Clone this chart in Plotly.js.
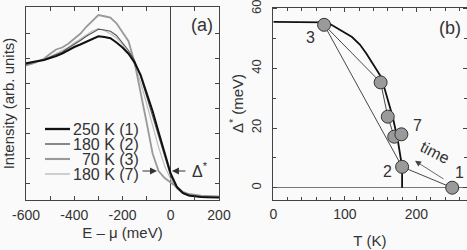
<!DOCTYPE html>
<html>
<head>
<meta charset="utf-8">
<script src="https://cdn.plot.ly/plotly-3.0.1.min.js"></script>
<style>html,body{margin:0;padding:0;background:#fafafa;}#chart{width:467px;height:250px;}</style>
</head>
<body>
<div id="chart"></div>
<script>
// ---------- Panel (a): spectra ----------
const energy = [-600,-575,-550,-525,-500,-475,-450,-425,-400,-375,-350,-325,-300,-275,-250,-225,-200,-175,-150,-125,-100,-75,-50,-25,0,25,50,75,100,125,150,175,200];
const int250K_1 = [5.47,5.50,5.56,5.60,5.67,5.76,5.86,6.00,6.12,6.22,6.32,6.42,6.55,6.52,6.47,6.30,6.10,5.85,5.50,5.00,4.30,3.55,2.70,1.85,1.05,0.53,0.28,0.18,0.14,0.12,0.11,0.10,0.10];
const int180K_2 = [5.42,5.48,5.54,5.62,5.72,5.82,5.92,6.08,6.22,6.38,6.55,6.70,6.83,6.80,6.75,6.58,6.30,5.98,5.58,4.95,4.15,3.35,2.50,1.65,0.95,0.48,0.26,0.17,0.14,0.12,0.11,0.10,0.10];
const int70K_3  = [5.40,5.45,5.55,5.65,5.85,6.02,6.10,6.25,6.45,6.65,6.93,7.15,7.40,7.35,7.30,7.07,6.72,6.35,5.50,4.35,3.10,1.85,1.15,0.88,0.70,0.50,0.33,0.24,0.20,0.17,0.16,0.15,0.14];
const int180K_7 = [5.36,5.44,5.52,5.60,5.74,5.86,5.95,6.10,6.28,6.45,6.62,6.76,6.86,6.78,6.65,6.48,6.22,5.88,5.42,4.70,3.85,2.95,2.10,1.35,0.82,0.45,0.27,0.18,0.15,0.14,0.13,0.13,0.12];
const seriesNames = ['250 K (1)','180 K (2)','\u200770 K (3)','180 K (7)'];
const xTickVals = [-600,-400,-200,0,200];
const xTickText = ['-600','-400','-200','0','200'];

// ---------- Panel (b): gap vs temperature ----------
const measT   = [250,180,71,150,160,169,179];
const measGap = [0,7,54.6,35.3,23.8,17.1,17.9];
const measLabels = ['1','2','3','','','','7'];
const curveT   = [0,60,71,80,93,110,121,130,139.5,151,160,167,174,178,180,180];
const curveGap = [55.6,55.6,55.4,54.8,53,50.5,48,45,41.4,37,29.5,23.6,15.9,10.3,7,0];
const tTickVals = [0,100,200];
const gapTickVals = [0,20,40,60];

const W = 467, H = 250;
const px = v => v / W;
const py = v => 1 - v / H;

const seriesY = [int250K_1, int180K_2, int70K_3, int180K_7];
const seriesColor = ['#111111','#555555','#999999','#bbbbbb'];
const seriesWidth = [2,1.1,1.8,1.1];

const traces = [];
// draw lighter curves first so black is on top
[3,2,1,0].forEach(i => {
  traces.push({x: energy, y: seriesY[i], xaxis:'x', yaxis:'y', mode:'lines', name: seriesNames[i],
    line:{color: seriesColor[i], width: seriesWidth[i]}, hoverinfo:'skip'});
});
traces.push({x: curveT, y: curveGap, xaxis:'x2', yaxis:'y2', mode:'lines', line:{color:'#111', width:1.8}, hoverinfo:'skip'});
traces.push({x: measT, y: measGap, xaxis:'x2', yaxis:'y2', mode:'lines+markers',
  line:{color:'#333', width:0.9},
  marker:{size:13, color:'#9a9a9a', line:{color:'#333', width:1}}, hoverinfo:'skip'});

const txt = '#333';
const annotations = [];
const shapes = [];
function label(x, y, text, size, extra) {
  annotations.push(Object.assign({xref:'paper', yref:'paper', x:px(x), y:py(y), xanchor:'center', yanchor:'middle',
    text:text, showarrow:false, font:{size:size, color:txt}}, extra || {}));
}

// legend for (a)
const legRows = [129,144,159,174];
seriesNames.forEach((n,i) => {
  shapes.push({type:'line', xref:'paper', yref:'paper', x0:px(45), x1:px(70), y0:py(legRows[i]), y1:py(legRows[i]),
    line:{color: seriesColor[i], width: seriesWidth[i] + 0.3}});
  label(141, legRows[i], n, 16, {xanchor:'right'});
});
label(202, 25, '(a)', 18);
label(200, 170, 'Δ<sup>*</sup>', 16);
annotations.push({xref:'x', yref:'y', x:-57, y:1.16, ax:-16, ay:0, text:'', showarrow:true, arrowhead:2, arrowsize:1.4, arrowwidth:1, arrowcolor:'#333'});
annotations.push({xref:'x', yref:'y', x:5, y:1.16, ax:15, ay:0, text:'', showarrow:true, arrowhead:2, arrowsize:1.4, arrowwidth:1, arrowcolor:'#333'});

// (b)
label(450, 28, '(b)', 18);
const labPos = {'1':[459,172],'2':[387,171],'3':[310,37],'7':[417,125]};
measLabels.forEach(l => { if (l) label(labPos[l][0], labPos[l][1], l, 16); });
label(435, 152, 'time', 16, {textangle:27});
annotations.push({xref:'x2', yref:'y2', x:198, y:9, ax:30, ay:19, text:'', showarrow:true, arrowhead:2, arrowsize:1.5, arrowwidth:0.8, arrowcolor:'#444'});

const axCommon = {showline:true, linecolor:'#444', linewidth:1, mirror:'ticks', ticks:'inside', ticklen:4, tickcolor:'#444', showgrid:false,
  tickfont:{size:14, color:txt}, ticklabeloverflow:'allow'};

const layout = {
  width: W, height: H, margin:{l:0,r:0,t:0,b:0},
  paper_bgcolor:'#fafafa', plot_bgcolor:'#fafafa', showlegend:false,
  font:{family:'Liberation Sans, Arial, sans-serif', size:14, color:txt},
  xaxis: Object.assign({}, axCommon, {domain:[px(26), px(219)], range:[-600,200], anchor:'y',
    tickmode:'array', tickvals:xTickVals, ticktext:xTickText, ticklabelstandoff:2,
    minor:{dtick:100, tick0:0, ticks:'inside', ticklen:4, tickcolor:'#444'},
    zeroline:true, zerolinecolor:'#444', zerolinewidth:1,
    title:{text:'E – μ (meV)', font:{size:15, color:txt}, standoff:5}}),
  yaxis: Object.assign({}, axCommon, {domain:[0.2, py(7)], range:[0,7.72], anchor:'x',
    tick0:0.68, dtick:1, showticklabels:false, zeroline:false,
    title:{text:'Intensity (arb. units)', font:{size:15, color:txt}, standoff:6}}),
  xaxis2: Object.assign({}, axCommon, {domain:[px(273.3), px(466.5)], range:[0,270], anchor:'y2',
    tickmode:'array', tickvals:tTickVals, ticklabelstandoff:2,
    minor:{dtick:20, tick0:0, ticks:'inside', ticklen:3, tickcolor:'#444'},
    zeroline:false,
    title:{text:'T (K)', font:{size:15, color:txt}, standoff:14}}),
  yaxis2: Object.assign({}, axCommon, {domain:[py(199.5), py(7.5)], range:[-3.95,60.4], anchor:'x2',
    tickmode:'array', tickvals:gapTickVals, tickangle:-90, ticklabelstandoff:6,
    tickfont:{size:13, color:txt},
    minor:{dtick:10, tick0:0, ticks:'inside', ticklen:3, tickcolor:'#444'},
    zeroline:true, zerolinecolor:'#777', zerolinewidth:1.5,
    title:{text:'Δ<sup>*</sup> (meV)', font:{size:15, color:txt}, standoff:1}}),
  annotations: annotations,
  shapes: shapes
};

Plotly.newPlot('chart', traces, layout, {staticPlot:true, displayModeBar:false});
</script>
</body>
</html>
